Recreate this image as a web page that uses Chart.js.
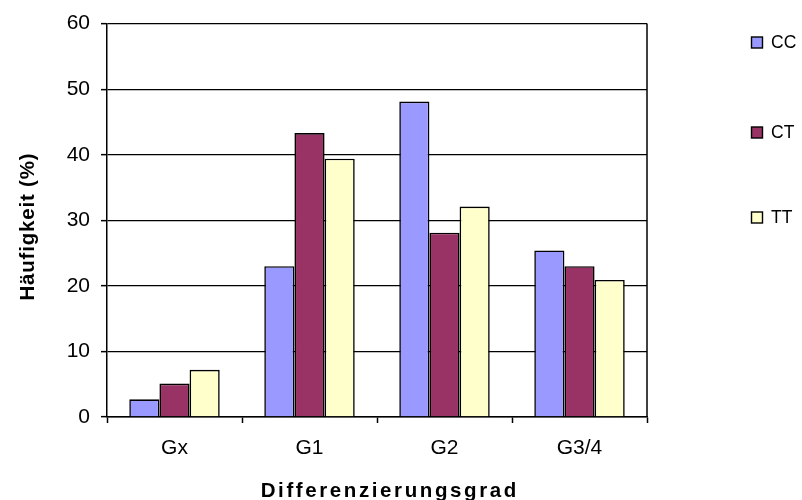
<!DOCTYPE html>
<html>
<head>
<meta charset="utf-8">
<script src="https://cdn.jsdelivr.net/npm/chart.js@4/dist/chart.umd.min.js"></script>
<style>
  html, body { margin: 0; padding: 0; background: #ffffff; }
  #wrap { width: 802px; height: 500px; }
</style>
</head>
<body>
<div id="wrap"><canvas id="c" width="802" height="500"></canvas></div>
<script>
// Differentiation grade vs. genotype frequency
const categories = ['Gx', 'G1', 'G2', 'G3/4'];
const seriesNames = ['CC', 'CT', 'TT'];
const valuesCC = [2.7, 23.0, 48.1, 25.4];
const valuesCT = [5.1, 43.3, 28.1, 23.0];
const valuesTT = [7.2, 39.4, 32.1, 20.9];
const yTickValues = [0, 10, 20, 30, 40, 50, 60];
const xTitle = 'Differenzierungsgrad';
const yTitle = 'Häufigkeit (%)';

const FONT = '"Liberation Sans", Arial, sans-serif';
const seriesColors = ['#9999FF', '#993366', '#FFFFCC'];

// Box outline on the right edge of the plot area
const plotFrame = {
  id: 'plotFrame',
  afterDatasetsDraw(chart) {
    const { ctx, chartArea } = chart;
    ctx.save();
    ctx.strokeStyle = '#000';
    ctx.lineWidth = 1.5;
    ctx.beginPath();
    ctx.moveTo(chartArea.right, chartArea.top);
    ctx.lineTo(chartArea.right, chartArea.bottom);
    ctx.stroke();
    ctx.restore();
  }
};

// Legend column to the right of the plot, widely spaced rows
const sideLegend = {
  id: 'sideLegend',
  afterDraw(chart) {
    const ctx = chart.ctx;
    const rowY = [42.5, 132.5, 217.5];
    chart.data.datasets.forEach((ds, i) => {
      const y = rowY[i];
      ctx.save();
      ctx.fillStyle = ds.backgroundColor;
      ctx.fillRect(751.5, y - 5.5, 11, 11);
      ctx.lineWidth = 1.4;
      ctx.strokeStyle = '#000';
      ctx.strokeRect(751.5, y - 5.5, 11, 11);
      ctx.fillStyle = '#000';
      ctx.font = '17.5px ' + FONT;
      ctx.textAlign = 'left';
      ctx.textBaseline = 'middle';
      ctx.fillText(ds.label, 771, y + 0.5);
      ctx.restore();
    });
  }
};

// Letter-spaced bold axis titles
const axisTitles = {
  id: 'axisTitles',
  afterDraw(chart) {
    const ctx = chart.ctx;
    ctx.save();
    ctx.fillStyle = '#000';
    ctx.font = 'bold 20.5px ' + FONT;
    ctx.textAlign = 'left';
    ctx.textBaseline = 'alphabetic';

    ctx.letterSpacing = '2.6px';
    let w = ctx.measureText(xTitle).width - 2.6;
    ctx.fillText(xTitle, 388.5 - w / 2, 496.5);

    ctx.letterSpacing = '0.8px';
    w = ctx.measureText(yTitle).width - 0.8;
    ctx.translate(34, 227);
    ctx.rotate(-Math.PI / 2);
    ctx.fillText(yTitle, -w / 2, 0);
    ctx.restore();
  }
};

new Chart(document.getElementById('c'), {
  type: 'bar',
  data: {
    labels: categories,
    datasets: [
      { label: seriesNames[0], data: valuesCC, backgroundColor: seriesColors[0] },
      { label: seriesNames[1], data: valuesCT, backgroundColor: seriesColors[1] },
      { label: seriesNames[2], data: valuesTT, backgroundColor: seriesColors[2] }
    ].map(d => Object.assign(d, {
      borderColor: '#000',
      borderWidth: 1.6,
      borderSkipped: 'start',
      categoryPercentage: 0.67,
      barPercentage: 1.0
    }))
  },
  options: {
    responsive: false,
    animation: false,
    devicePixelRatio: 1,
    layout: { padding: { top: 22, right: 155, left: 0, bottom: 0 } },
    plugins: {
      legend: { display: false },
      tooltip: { enabled: false }
    },
    scales: {
      x: {
        afterFit(scale) { scale.height = 83; },
        grid: {
          offset: true,
          drawOnChartArea: false,
          drawTicks: true,
          tickLength: 6,
          tickColor: '#000',
          tickWidth: 1.5
        },
        border: { color: '#000', width: 1.5 },
        ticks: {
          color: '#000',
          font: { family: FONT, size: 21 },
          padding: 13
        }
      },
      y: {
        min: 0,
        max: 60,
        afterFit(scale) { scale.width = 107; },
        afterBuildTicks(scale) { scale.ticks = yTickValues.map(v => ({ value: v })); },
        grid: {
          color: '#000',
          lineWidth: 1.3,
          drawTicks: true,
          tickLength: 6,
          tickColor: '#000',
          tickWidth: 1.5
        },
        border: { color: '#000', width: 1.5 },
        ticks: {
          color: '#000',
          font: { family: FONT, size: 21 },
          padding: 11
        }
      }
    }
  },
  plugins: [plotFrame, sideLegend, axisTitles]
});
</script>
</body>
</html>
